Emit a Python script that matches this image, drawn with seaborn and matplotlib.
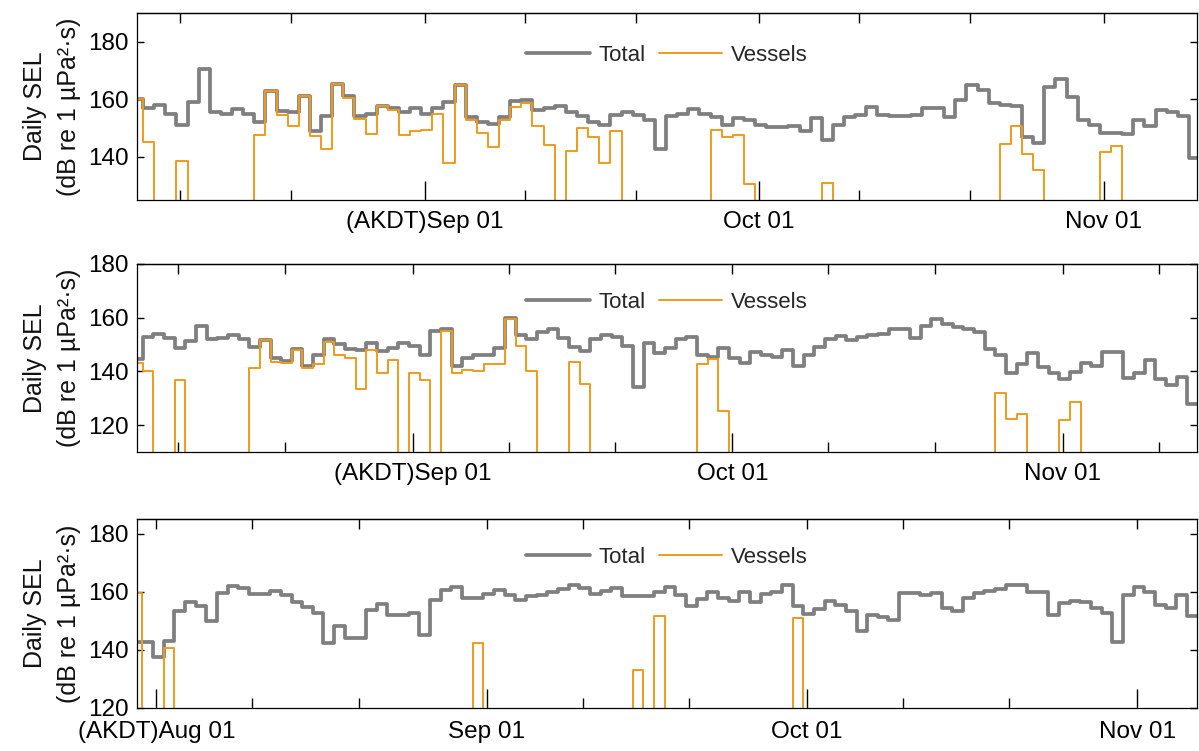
import matplotlib
matplotlib.use('Agg')
import matplotlib.pyplot as plt
import matplotlib.dates as mdates
import numpy as np
import pandas as pd
import seaborn as sns

N = None  # no vessel detected that day

# ---------------- Panel 1 ----------------
p1_start = '2019-08-06'
p1_total = [160, 157, 158, 155, 151, 159, 170.4, 155.4, 155, 156.5, 155, 152, 163, 156, 155.7, 161,
            149, 154, 165.3, 161, 154, 155, 157.7, 157, 155.4, 157, 155, 157, 159, 165, 153.7, 152,
            151.4, 153.7, 159.5, 159.8, 156.3, 157, 157.7, 155.7, 154, 151.9, 151, 154.5, 155.7, 154.5,
            152.6, 142.6, 154, 155, 156.5, 155, 153.7, 151, 153.4, 152.8, 151, 150.3, 150.5, 150.7, 149,
            153.4, 145.9,
            151.1, 153.7, 154.5, 157.2, 154.5, 154, 154.3, 154.5, 156.9, 156.9, 153.7, 159.8, 165, 163.2,
            158.8, 158, 157.7, 147, 144.9, 164.2, 167, 160.7, 152.8, 151, 148.4, 148.4, 147.9, 152.6,
            150.7, 156.1, 155.4, 154, 139.5]
p1_vessels = [160, 145.3, N, N, 138.7, N, N, N, N, N, N,
              147.6, 163, 154.5, 150.7, 161, 147.2, 142.6, 165.3, 160.3, 153, 147.8, 157.7, 156.3, 147.6,
              148.8, 149.3, 155, 138, 165, 152.8, 148.4, 143.5, 152.8, 157.4, 158.6, 150.7, 144.1,
              N, 142.1, 149.9, 146.8, 138, 148.8,
              N, N, N, N, N, N, N, N,
              149.3, 146.8, 147.6, 130.6,
              N, N, N, N, N, N,
              130.8,
              N, N, N, N, N, N, N, N, N, N, N, N, N, N, N,
              144.5, 150.7, 141, 135.4,
              N, N, N, N, N,
              141.8, 143.9,
              N, N, N, N, N, N, N]
p1_ylim = (125, 190)
p1_yticks = [140, 160, 180]
p1_xlim_days = (-25.85, 69.36)   # days relative to Sep 01
p1_xticklabels = ['(AKDT)Sep 01', 'Oct 01', 'Nov 01']

# ---------------- Panel 2 ----------------
p2_start = '2019-08-06'
p2_total = [144.5, 152.9, 153.8, 152.5, 148.8, 151.3, 156.9, 151.9, 152.5, 153.4, 152.2, 149.2, 151.7,
            145.1, 143.9, 148.2, 142.2, 146, 152.2, 150.1, 148.4, 148, 150.4, 147.6, 148.8, 150.4,
            149.4, 146, 155, 155.7, 142.2, 145.1,
            146, 146, 148.8, 160, 153.4, 151.9, 154.7, 155.7, 152.5, 149.2, 147.6, 151.9, 153.4, 152.9,
            149.4, 134.3, 150.4, 146.7, 148.8, 152.2, 152.9, 146.3, 145.5, 148.8, 145.1, 143.2, 147.2,
            146.3, 145.5, 148, 142, 146.3, 149.2,
            152.2, 153.2, 151.7, 152.9, 153.4, 153.8, 155.7, 155.7, 152.5, 156.9, 159.4, 157.5, 156.6,
            155.7, 154.7, 148.4, 146.3, 139.5, 142.6, 147, 141.7, 139.3, 137, 139.8, 143, 142, 147.2,
            147.2, 137.6, 139.5, 144.2, 137.3, 134.8, 138, 127.7]
p2_vessels = [143, 140.1, N, N, 136.8, N, N, N, N, N, N,
              141.4, 151.7, 143.5, 143, 148, 141.4, 142.6, 150.9, 146, 145.1, 133.3, 148, 139.5, 144.2,
              N, 139.5, 136.8, N,
              155, 139.5, 140.5, 140.3, 142.6, 142.6, 159.6, 149.4, 140.1,
              N, N, N, 143.5, 135.2,
              N, N, N, N, N, N, N, N, N, N,
              142.6, 144.7, 125.2,
              N, N, N, N, N, N, N, N, N, N, N, N, N, N, N, N, N, N, N, N, N, N, N, N, N,
              131.8, 122.4, 124.3,
              N, N, N,
              122.1, 128.7,
              N, N, N, N, N, N, N, N, N, N, N]
p2_ylim = (110, 180)
p2_yticks = [120, 140, 160, 180]
p2_xlim_days = (-25.83, 73.55)
p2_xticklabels = ['(AKDT)Sep 01', 'Oct 01', 'Nov 01']

# ---------------- Panel 3 ----------------
p3_start = '2019-07-30'
p3_total = [142.6, 142.6, 137.6, 143, 153.2, 156.4, 155.2, 150, 159.5, 161.8, 161.2, 159.2, 159.2,
            160.1, 158.9, 156.6, 154.9, 152.6, 142.2, 148.3, 144.2, 144.2, 153.7, 155.7, 152, 152,
            152.6, 145.1, 157.2, 160.7, 161.5, 157.8, 157.8,
            159.2, 160.7, 158.7, 157.2, 158.4, 158.7, 159.8, 161, 162.4, 161.2, 159.2, 160.1, 161.2,
            158.4, 158.4, 158.4, 159.8, 161.5, 158.9, 155.2, 157.5, 159.8, 157.8, 156.9, 159.8, 156.6,
            159.2, 159.8, 162.2, 155.2, 152.2, 154.1,
            156.8, 155.5, 153.4, 146.5, 152, 151.4, 150.3, 159.5, 159.5, 158.7, 159.5, 154.3, 153.4,
            157.8, 159.5, 160.3, 161, 162.2, 162.2, 159.8, 159.8, 152, 156, 156.9, 156.6, 154.5, 152.6,
            142.8, 158.7, 161.5, 159.8, 155.5, 154.3, 158.9, 151.8]
p3_vessels = ([159.5, N, N, 140.5] + [N] * 28 + [142.2] + [N] * 14 + [133, N, 151.8] + [N] * 12
              + [151.1] + [N] * 37)
p3_ylim = (120, 185)
p3_yticks = [120, 140, 160, 180]
p3_xlim_days = (-32.8, 66.58)
p3_xticklabels = ['(AKDT)Aug 01', 'Sep 01', 'Oct 01', 'Nov 01']

ref_day = pd.Timestamp('2019-09-01')

# ---------------- style ----------------
sns.set_theme(style='white')
plt.rcParams['font.family'] = ['Liberation Sans', 'DejaVu Sans']
plt.rcParams['axes.edgecolor'] = 'black'
plt.rcParams['axes.linewidth'] = 0.9

GRAY = '#7f7f7f'
ORANGE = '#EE9A1C'
FS = 17.5
FLOOR = 0.0  # vessel line drops out of view on days with no detection

fig = plt.figure(figsize=(11.99, 7.51), dpi=100)
W, H = 1199, 751
boxes = [(137.3, 12.7, 1196.7, 200), (137.3, 264, 1196.7, 452), (137.3, 519, 1196.7, 708)]
leg_y = [0.774, 0.794, 0.795]
xpads = [8, 8, 9.5]

panels = [
    (p1_start, p1_total, p1_vessels, p1_ylim, p1_yticks, p1_xlim_days, p1_xticklabels),
    (p2_start, p2_total, p2_vessels, p2_ylim, p2_yticks, p2_xlim_days, p2_xticklabels),
    (p3_start, p3_total, p3_vessels, p3_ylim, p3_yticks, p3_xlim_days, p3_xticklabels),
]

for i, (start, total, vessels, ylim, yticks, xlim_days, xtl) in enumerate(panels):
    x0, y0, x1, y1 = boxes[i]
    ax = fig.add_axes([x0 / W, 1 - y1 / H, (x1 - x0) / W, (y1 - y0) / H])

    # UTC days shown in AKDT (UTC-8): each daily step starts at 16:00 of previous day
    t = pd.date_range(start, periods=len(total), freq='D') - pd.Timedelta(hours=8)
    t_edges = t.append(pd.DatetimeIndex([t[-1] + pd.Timedelta(days=1)]))
    tot = list(total) + [total[-1]]
    ves = [FLOOR if v is None else v for v in vessels]
    ves = ves + [ves[-1]]
    df = pd.DataFrame({'time': t_edges, 'Total': tot, 'Vessels': ves})

    sns.lineplot(data=df, x='time', y='Total', ax=ax, color=GRAY, lw=2.7,
                 drawstyle='steps-post', label='Total')
    sns.lineplot(data=df, x='time', y='Vessels', ax=ax, color=ORANGE, lw=1.4,
                 drawstyle='steps-post', label='Vessels')

    left = ref_day + pd.Timedelta(days=xlim_days[0])
    right = ref_day + pd.Timedelta(days=xlim_days[1])
    ax.set_xlim(left, right)
    ax.set_ylim(*ylim)
    ax.set_xlabel('')

    months = pd.date_range(left.normalize(), right, freq='MS')
    months = [m for m in months if m >= left]
    ax.set_xticks(months, labels=xtl)
    ax.xaxis.set_minor_locator(mdates.DayLocator(bymonthday=[10, 20]))
    ax.tick_params(axis='x', which='major', direction='in', length=14, width=1.0, pad=xpads[i],
                   labelsize=FS, bottom=True, top=False, colors='black')
    ax.tick_params(axis='x', which='minor', direction='in', length=7, width=1.0,
                   bottom=True, top=False, color='black')
    sec = ax.secondary_xaxis('top')
    sec.xaxis.set_major_locator(mdates.DayLocator(bymonthday=[1, 10, 20]))
    sec.tick_params(axis='x', direction='in', length=7, width=1.0, labeltop=False,
                    labelbottom=False, color='black')

    ax.set_yticks(yticks)
    ax.tick_params(axis='y', direction='in', length=5, width=1.0, left=True, right=True,
                   labelsize=FS, pad=6, colors='black')
    ax.set_ylabel('Daily SEL\n(dB re 1 µPa²·s)', fontsize=18, labelpad=5, linespacing=1.55,
                  color='#111111')
    for s in ax.spines.values():
        s.set_visible(True)
        s.set_color('black')

    ax.legend(loc='center', bbox_to_anchor=(0.5, leg_y[i]), ncol=2, frameon=False,
              fontsize=16, handlelength=2.85, handletextpad=0.4, columnspacing=0.6,
              borderaxespad=0)

fig.savefig('out.png', dpi=100, facecolor='white')
